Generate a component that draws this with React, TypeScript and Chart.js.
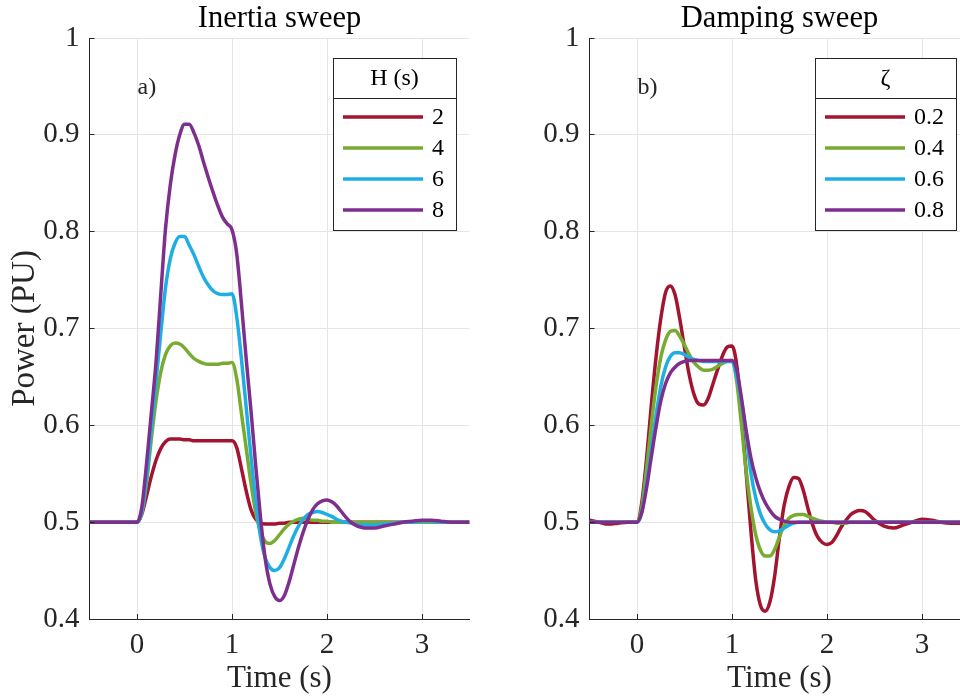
import { useEffect, useRef } from 'react';
import { Chart, registerables } from 'chart.js';

Chart.register(...registerables);

// ---- data ----
const time = [
  -0.5, -0.4, -0.3, -0.2, -0.1,
  0, 0.05, 0.1, 0.15, 0.2, 0.25, 0.3, 0.35, 0.4, 0.45, 0.5, 0.55, 0.6, 0.65, 0.7, 0.75, 0.8, 0.85, 0.9, 0.95,
  1.0, 1.05, 1.1, 1.15, 1.2, 1.25, 1.3, 1.35, 1.4, 1.45, 1.5, 1.55, 1.6, 1.65, 1.7, 1.75, 1.8, 1.85, 1.9, 1.95,
  2.0, 2.05, 2.1, 2.15, 2.2, 2.25, 2.3, 2.35, 2.4, 2.45, 2.5,
  2.6, 2.7, 2.8, 2.9, 3.0, 3.1, 3.2, 3.3, 3.4, 3.5,
];

// Inertia sweep (panel a)
const inertiaH2 = [
  0.5, 0.5, 0.5, 0.5, 0.5,
  0.5, 0.508, 0.527, 0.547, 0.564, 0.576, 0.583, 0.586, 0.586, 0.586, 0.585, 0.585, 0.584, 0.584, 0.584, 0.584, 0.584, 0.584, 0.584, 0.584,
  0.584, 0.577, 0.555, 0.532, 0.513, 0.503, 0.499, 0.498, 0.498, 0.498, 0.499, 0.499, 0.5, 0.5, 0.5, 0.5, 0.5, 0.5, 0.5, 0.5,
  0.5, 0.5, 0.5, 0.5, 0.5, 0.5, 0.5, 0.5, 0.5, 0.5, 0.5,
  0.5, 0.5, 0.5, 0.5, 0.5, 0.5, 0.5, 0.5, 0.5, 0.5,
];
const inertiaH4 = [
  0.5, 0.5, 0.5, 0.5, 0.5,
  0.5, 0.51, 0.54, 0.585, 0.625, 0.655, 0.673, 0.682, 0.685, 0.684, 0.68, 0.674, 0.669, 0.666, 0.664, 0.663, 0.663, 0.663, 0.664, 0.664,
  0.665, 0.648, 0.612, 0.576, 0.54, 0.51, 0.49, 0.48, 0.478, 0.481, 0.487, 0.493, 0.498, 0.501, 0.503, 0.504, 0.503, 0.502, 0.502, 0.501,
  0.501, 0.5, 0.5, 0.5, 0.5, 0.5, 0.5, 0.5, 0.5, 0.5, 0.5,
  0.5, 0.5, 0.5, 0.5, 0.5, 0.5, 0.5, 0.5, 0.5, 0.5,
];
const inertiaH6 = [
  0.5, 0.5, 0.5, 0.5, 0.5,
  0.5, 0.51, 0.545, 0.595, 0.645, 0.695, 0.742, 0.772, 0.788, 0.795, 0.795, 0.786, 0.776, 0.764, 0.753, 0.745, 0.739, 0.736, 0.735, 0.735,
  0.736, 0.712, 0.668, 0.618, 0.568, 0.522, 0.485, 0.463, 0.453, 0.45, 0.453, 0.462, 0.474, 0.486, 0.496, 0.503, 0.508, 0.51, 0.511, 0.51,
  0.508, 0.506, 0.503, 0.501, 0.5, 0.499, 0.498, 0.497, 0.497, 0.497, 0.497,
  0.498, 0.499, 0.5, 0.5, 0.501, 0.501, 0.5, 0.5, 0.5, 0.5,
];
const inertiaH8 = [
  0.5, 0.5, 0.5, 0.5, 0.5,
  0.5, 0.515, 0.56, 0.612, 0.665, 0.735, 0.803, 0.848, 0.879, 0.9, 0.911, 0.911, 0.902, 0.889, 0.872, 0.856, 0.841, 0.827, 0.815, 0.808,
  0.802, 0.777, 0.725, 0.668, 0.615, 0.558, 0.505, 0.462, 0.436, 0.423, 0.419, 0.424, 0.438, 0.456, 0.474, 0.49, 0.503, 0.513, 0.519, 0.522,
  0.523, 0.521, 0.517, 0.511, 0.505, 0.5, 0.497, 0.495, 0.494, 0.494, 0.494,
  0.496, 0.498, 0.5, 0.501, 0.502, 0.502, 0.501, 0.5, 0.5, 0.5,
];

// Damping sweep (panel b)
const dampingZ02 = [
  0.502, 0.5, 0.498, 0.499, 0.5,
  0.5, 0.52, 0.565, 0.62, 0.67, 0.71, 0.737, 0.744, 0.735, 0.71, 0.68, 0.652, 0.632, 0.622, 0.621, 0.628, 0.643, 0.658, 0.672, 0.681,
  0.682, 0.662, 0.612, 0.55, 0.49, 0.44, 0.414, 0.408, 0.418, 0.445, 0.485, 0.518, 0.537, 0.546, 0.545, 0.533, 0.514, 0.497, 0.485, 0.479,
  0.477, 0.479, 0.486, 0.495, 0.502, 0.508, 0.511, 0.512, 0.511, 0.507, 0.502,
  0.496, 0.494, 0.497, 0.5, 0.503, 0.502, 0.5, 0.499, 0.499, 0.5,
];
const dampingZ04 = [
  0.5, 0.5, 0.5, 0.5, 0.5,
  0.5, 0.515, 0.555, 0.6, 0.64, 0.67, 0.688, 0.697, 0.698, 0.692, 0.683, 0.673, 0.665, 0.66, 0.657, 0.657, 0.658, 0.661, 0.664, 0.666,
  0.667, 0.645, 0.6, 0.552, 0.515, 0.487, 0.471, 0.465, 0.465, 0.472, 0.485, 0.497, 0.504, 0.507, 0.508, 0.508, 0.506, 0.504, 0.502, 0.501,
  0.5, 0.5, 0.499, 0.499, 0.499, 0.5, 0.5, 0.5, 0.5, 0.5, 0.5,
  0.5, 0.5, 0.5, 0.5, 0.5, 0.5, 0.5, 0.5, 0.5, 0.5,
];
const dampingZ06 = [
  0.5, 0.5, 0.5, 0.5, 0.5,
  0.5, 0.51, 0.54, 0.575, 0.61, 0.64, 0.66, 0.671, 0.675, 0.675, 0.673, 0.67, 0.668, 0.667, 0.666, 0.666, 0.666, 0.666, 0.666, 0.666,
  0.666, 0.65, 0.625, 0.59, 0.55, 0.525, 0.508, 0.498, 0.492, 0.49, 0.491, 0.494, 0.497, 0.499, 0.5, 0.5, 0.5, 0.5, 0.5, 0.5,
  0.5, 0.5, 0.5, 0.5, 0.5, 0.5, 0.5, 0.5, 0.5, 0.5, 0.5,
  0.5, 0.5, 0.5, 0.5, 0.5, 0.5, 0.5, 0.5, 0.5, 0.5,
];
const dampingZ08 = [
  0.5, 0.5, 0.5, 0.5, 0.5,
  0.5, 0.51, 0.535, 0.567, 0.598, 0.625, 0.643, 0.654, 0.66, 0.664, 0.666, 0.667, 0.667, 0.667, 0.667, 0.667, 0.667, 0.667, 0.667, 0.667,
  0.667, 0.657, 0.628, 0.594, 0.566, 0.546, 0.531, 0.52, 0.512, 0.506, 0.503, 0.501, 0.5, 0.5, 0.5, 0.5, 0.5, 0.5, 0.5, 0.5,
  0.5, 0.5, 0.5, 0.5, 0.5, 0.5, 0.5, 0.5, 0.5, 0.5, 0.5,
  0.5, 0.5, 0.5, 0.5, 0.5, 0.5, 0.5, 0.5, 0.5, 0.5,
];

const inertiaLabels = ['2', '4', '6', '8'];
const dampingLabels = ['0.2', '0.4', '0.6', '0.8'];
const xTicks = [0, 1, 2, 3];
const xTickLabels = ['0', '1', '2', '3'];
const yTicks = [0.4, 0.5, 0.6, 0.7, 0.8, 0.9, 1];
const yTickLabels = ['0.4', '0.5', '0.6', '0.7', '0.8', '0.9', '1'];

// ---- styles ----
const SERIES_COLORS = ['#A2142F', '#77AC30', '#1FAEE3', '#7E2F8E'];
const AXIS_COLOR = '#262626';
const GRID_COLOR = '#e5e5e5';
const FONT_FAMILY = '"Liberation Serif", "Times New Roman", serif';

type PanelCfg = {
  title: string;
  letter: string;
  legendTitle: string;
  labels: string[];
  series: number[][];
  yWidth: number;
  yTitle: string | null;
};

function alignPx(p: number) {
  return Math.round(p - 0.5) + 0.5;
}

function makeOverlay(cfg: PanelCfg) {
  return {
    id: 'overlay',
    afterDraw(chart: any) {
      const ctx = chart.ctx as CanvasRenderingContext2D;
      const area = chart.chartArea;
      const xs = chart.scales.x;
      const ys = chart.scales.y;
      ctx.save();

      // inward ticks
      ctx.strokeStyle = AXIS_COLOR;
      ctx.lineWidth = 1;
      ctx.beginPath();
      xTicks.forEach((v) => {
        const px = alignPx(xs.getPixelForValue(v));
        ctx.moveTo(px, area.bottom);
        ctx.lineTo(px, area.bottom - 5);
      });
      yTicks.forEach((v) => {
        const py = alignPx(ys.getPixelForValue(v));
        ctx.moveTo(area.left, py);
        ctx.lineTo(area.left + 5, py);
      });
      ctx.stroke();

      // title
      ctx.fillStyle = '#000';
      ctx.font = `30.5px ${FONT_FAMILY}`;
      ctx.textAlign = 'center';
      ctx.textBaseline = 'alphabetic';
      ctx.fillText(cfg.title, (area.left + area.right) / 2, 27);

      // panel letter
      ctx.fillStyle = AXIS_COLOR;
      ctx.font = `24px ${FONT_FAMILY}`;
      ctx.textAlign = 'left';
      ctx.fillText(cfg.letter, area.left + 48, area.top + 55.5);

      // legend
      ctx.font = `24px ${FONT_FAMILY}`;
      const maxW = Math.max(...cfg.labels.map((l) => ctx.measureText(l).width));
      const w = Math.round(10 + 80 + 9 + maxW + 12);
      const right = Math.round(area.right - 13.5);
      const left = right - w;
      const top = Math.round(area.top + 20);
      const headerBottom = top + 40;
      const bottom = headerBottom + 132;
      ctx.fillStyle = '#fff';
      ctx.fillRect(left, top, w, bottom - top);
      ctx.strokeStyle = AXIS_COLOR;
      ctx.lineWidth = 1;
      ctx.strokeRect(left + 0.5, top + 0.5, w, bottom - top);
      ctx.beginPath();
      ctx.moveTo(left, headerBottom + 0.5);
      ctx.lineTo(right, headerBottom + 0.5);
      ctx.stroke();

      ctx.fillStyle = '#000';
      ctx.textAlign = 'center';
      ctx.textBaseline = 'middle';
      ctx.fillText(cfg.legendTitle, (left + right) / 2, (top + headerBottom) / 2 + 1);

      cfg.labels.forEach((lab, i) => {
        const cy = headerBottom + 19 + 31 * i;
        ctx.strokeStyle = SERIES_COLORS[i];
        ctx.lineWidth = 3.5;
        ctx.beginPath();
        ctx.moveTo(left + 10, cy);
        ctx.lineTo(left + 90, cy);
        ctx.stroke();
        ctx.fillStyle = '#000';
        ctx.textAlign = 'left';
        ctx.fillText(lab, left + 99, cy + 1);
      });

      ctx.restore();
    },
  };
}

function buildChart(canvas: HTMLCanvasElement, cfg: PanelCfg) {
  const tickFont = { family: FONT_FAMILY, size: 29 };
  const xLabelFont = { family: FONT_FAMILY, size: 31 };
  const yLabelFont = { family: FONT_FAMILY, size: 33 };
  return new Chart(canvas, {
    type: 'line',
    data: {
      datasets: cfg.series.map((s, i) => ({
        label: cfg.labels[i],
        data: time.map((t, j) => ({ x: t, y: s[j] })),
        borderColor: SERIES_COLORS[i],
        backgroundColor: SERIES_COLORS[i],
        borderWidth: 3.5,
        pointRadius: 0,
        fill: false,
        cubicInterpolationMode: 'monotone' as const,
        order: 4 - i,
      })),
    },
    options: {
      animation: false,
      responsive: false,
      maintainAspectRatio: false,
      layout: { padding: { top: 38, right: 10.5, left: 0, bottom: 0 } },
      plugins: {
        legend: { display: false },
        tooltip: { enabled: false },
        title: { display: false },
      },
      scales: {
        x: {
          type: 'linear',
          min: -0.5,
          max: 3.5,
          afterBuildTicks: (s: any) => {
            s.ticks = xTicks.map((v) => ({ value: v }));
          },
          afterFit: (s: any) => {
            s.height = 80;
          },
          grid: { color: GRID_COLOR, drawTicks: false, lineWidth: 1 },
          border: { color: AXIS_COLOR, width: 1 },
          ticks: {
            padding: 9,
            color: AXIS_COLOR,
            font: tickFont,
            maxRotation: 0,
            callback: (v: any) => {
              const i = xTicks.findIndex((t) => Math.abs(t - Number(v)) < 1e-9);
              return i >= 0 ? xTickLabels[i] : '';
            },
          },
          title: {
            display: true,
            text: 'Time (s)',
            color: AXIS_COLOR,
            font: xLabelFont,
            padding: { top: 0, bottom: 2 },
          },
        },
        y: {
          type: 'linear',
          min: 0.4,
          max: 1,
          afterBuildTicks: (s: any) => {
            s.ticks = yTicks.map((v) => ({ value: v }));
          },
          afterFit: (s: any) => {
            s.width = cfg.yWidth;
          },
          grid: { color: GRID_COLOR, drawTicks: false, lineWidth: 1 },
          border: { color: AXIS_COLOR, width: 1 },
          ticks: {
            padding: 10,
            color: AXIS_COLOR,
            font: tickFont,
            callback: (v: any) => {
              const i = yTicks.findIndex((t) => Math.abs(t - Number(v)) < 1e-9);
              return i >= 0 ? yTickLabels[i] : '';
            },
          },
          title: cfg.yTitle
            ? {
                display: true,
                text: cfg.yTitle,
                color: AXIS_COLOR,
                font: yLabelFont,
                padding: { top: 6, bottom: 0 },
              }
            : { display: false },
        },
      },
    } as any,
    plugins: [makeOverlay(cfg)],
  });
}

export default function App() {
  const leftRef = useRef<HTMLCanvasElement>(null);
  const rightRef = useRef<HTMLCanvasElement>(null);

  useEffect(() => {
    const charts: Chart[] = [];
    if (leftRef.current) {
      charts.push(
        buildChart(leftRef.current, {
          title: 'Inertia sweep',
          letter: 'a)',
          legendTitle: 'H (s)',
          labels: inertiaLabels,
          series: [inertiaH2, inertiaH4, inertiaH6, inertiaH8],
          yWidth: 89.5,
          yTitle: 'Power (PU)',
        })
      );
    }
    if (rightRef.current) {
      charts.push(
        buildChart(rightRef.current, {
          title: 'Damping sweep',
          letter: 'b)',
          legendTitle: 'ζ',
          labels: dampingLabels,
          series: [dampingZ02, dampingZ04, dampingZ06, dampingZ08],
          yWidth: 109.5,
          yTitle: null,
        })
      );
    }
    return () => charts.forEach((c) => c.destroy());
  }, []);

  return (
    <div
      style={{
        position: 'fixed',
        left: 0,
        top: 0,
        width: 960,
        height: 699,
        overflow: 'hidden',
        background: '#fff',
      }}
    >
      <canvas
        ref={leftRef}
        width={480}
        height={699}
        style={{ position: 'absolute', left: 0, top: 0, width: 480, height: 699, display: 'block' }}
      />
      <canvas
        ref={rightRef}
        width={500}
        height={699}
        style={{ position: 'absolute', left: 480, top: 0, width: 500, height: 699, display: 'block' }}
      />
    </div>
  );
}
